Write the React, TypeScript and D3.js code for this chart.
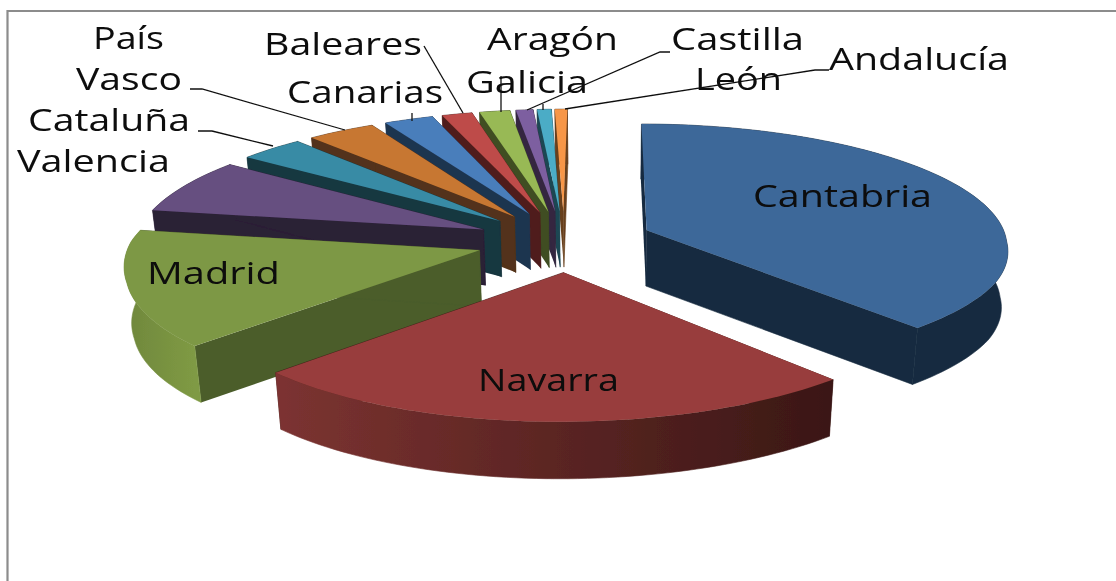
import React from "react";
import * as d3 from "d3";

const width = 1116;
const height = 581;

// shares, in percent
const regions = ["Cantabria", "Navarra", "Madrid", "Valencia", "Cataluña", "País Vasco", "Canarias", "Baleares", "Galicia", "Aragón", "Castilla León", "Andalucía"];
const shares = [38.4, 24.3, 15.0, 7.3, 3.4, 3.6, 2.6, 1.6, 1.6, 0.9, 0.75, 0.65];
const topColors = ["#3D6899", "#983E3C", "#7D9844", "#664F80", "#398BA5", "#C77732", "#4A7EBB", "#BE4B48", "#98B954", "#7D5FA0", "#4BACC6", "#F79646"];
const wallColors = ["#182B40", "#3A1715", "#4B5D2B", "#2B2036", "#173740", "#53321A", "#1F3550", "#4F1F1E", "#3F4E23", "#342840", "#1F4753", "#683F1D"];
const rimLeftColors = ["#182B40", "#7C3331", "#6F873C", "#2B2036", "#173740", "#53321A", "#1F3550", "#4F1F1E", "#3F4E23", "#342840", "#1F4753", "#683F1D"];
const rimRightColors = ["#182B40", "#3A1715", "#7F9A44", "#2B2036", "#173740", "#53321A", "#1F3550", "#4F1F1E", "#3F4E23", "#342840", "#1F4753", "#683F1D"];

// slices are painted back to front
const paintOrder = [11, 10, 9, 8, 7, 6, 5, 4, 3, 2, 0, 1];

const labelTexts = ["País", "Vasco", "Cataluña", "Valencia", "Baleares", "Canarias", "Aragón", "Galicia", "Castilla", "León", "Andalucía", "Cantabria", "Navarra", "Madrid"];
const labelLeft = [93, 76, 28, 17, 264, 287, 487, 466, 671, 695, 829, 753, 478, 147];
const labelRight = [164, 182, 190, 170, 422, 443, 618, 588, 804, 782, 1009, 932, 619, 280];
const labelBase = [49, 90, 131, 172, 55, 103, 50, 93, 50, 90, 70, 207, 391, 284];

const leaders: [number, number][][] = [
  [[190, 89], [202, 89], [345, 130]],
  [[198, 131], [212, 131], [273, 146]],
  [[424, 46], [463, 113]],
  [[412, 113], [412, 121]],
  [[501, 76], [501, 112]],
  [[670, 52], [660, 52], [527, 110]],
  [[543, 104], [543, 110]],
  [[829, 70], [815, 70], [565, 109]],
];

// projection of the tilted pie, unit radius
const cx = 564;
const cy = 241;
const vanishX = 600;
const radiusX = 355;
const radiusY = 122;
const persp = 0.125;
const explode = 0.25;

function project(X: number, Y: number): [number, number] {
  const s = 1 / (1 + persp * Y);
  // the picture's pie is slightly skewed: sides and front sit a bit to the right
  const skew = 4 * X * X + Math.min(5, Math.max(0, -Y * 15));
  return [vanishX + (cx - vanishX + radiusX * X) * s + skew, cy - radiusY * Y * s];
}

// same point pushed down to the bottom face of the pie
function lower([x, y]: [number, number]): [number, number] {
  return [vanishX + (x - vanishX) * 0.984, y + 55 + 0.0065 * (y - 109)];
}

const line = d3.line();
const closed = (pts: [number, number][]) => line(pts) + "Z";

const arcs = d3.pie<number>().sort(null)(shares);

const slices = arcs.map((a) => {
  const mid = (a.startAngle + a.endAngle) / 2;
  const ox = explode * Math.sin(mid);
  const oy = explode * Math.cos(mid);
  const apex = project(ox, oy);
  const steps = Math.max(4, Math.ceil((a.endAngle - a.startAngle) * 40));
  const rim = d3.range(steps + 1).map((i) => {
    const t = a.startAngle + ((a.endAngle - a.startAngle) * i) / steps;
    return project(ox + Math.sin(t), oy + Math.cos(t));
  });
  return { apex, rim };
});

export default function App() {
  return (
    <svg
      width={width}
      height={height}
      style={{ position: "absolute", left: 0, top: 0 }}
      fontFamily="'Open Sans', sans-serif"
    >
      <defs>
        <filter id="soft" x="-5%" y="-5%" width="110%" height="110%">
          <feGaussianBlur stdDeviation="0.6" />
        </filter>
        {slices.map((s, i) => (
          <linearGradient
            key={i}
            id={`rim${i}`}
            gradientUnits="userSpaceOnUse"
            x1={d3.min(s.rim, (p) => p[0])}
            x2={d3.max(s.rim, (p) => p[0])}
            y1={0}
            y2={0}
          >
            <stop offset="0" stopColor={rimLeftColors[i]} />
            <stop offset="1" stopColor={rimRightColors[i]} />
          </linearGradient>
        ))}
      </defs>
      <rect x={0} y={0} width={width} height={height} fill="#fff" />
      <g filter="url(#soft)">
        <path d="M7.5,581V11H1116" fill="none" stroke="#8c8c8c" strokeWidth={2.2} />
        {paintOrder.map((i) => {
          const { apex, rim } = slices[i];
          const first = rim[0];
          const last = rim[rim.length - 1];
          return (
            <g key={regions[i]}>
              <path d={closed([apex, first, lower(first), lower(apex)])} fill={wallColors[i]} />
              <path d={closed([apex, last, lower(last), lower(apex)])} fill={wallColors[i]} stroke={wallColors[i]} strokeWidth={0.6} />
              <path d={closed([...rim, ...rim.map(lower).reverse()])} fill={`url(#rim${i})`} stroke={`url(#rim${i})`} strokeWidth={0.6} />
              <path d={closed([apex, ...rim])} fill={topColors[i]} />
            </g>
          );
        })}
        {leaders.map((pts, i) => (
          <path key={i} d={line(pts) ?? ""} fill="none" stroke="#111" strokeWidth={1.3} />
        ))}
        {labelTexts.map((t, i) => (
          <text
            key={t}
            x={labelLeft[i]}
            y={labelBase[i]}
            fontSize={31}
            fill="#0a0a0a"
            textLength={labelRight[i] - labelLeft[i]}
            lengthAdjust="spacingAndGlyphs"
          >
            {t}
          </text>
        ))}
      </g>
    </svg>
  );
}
